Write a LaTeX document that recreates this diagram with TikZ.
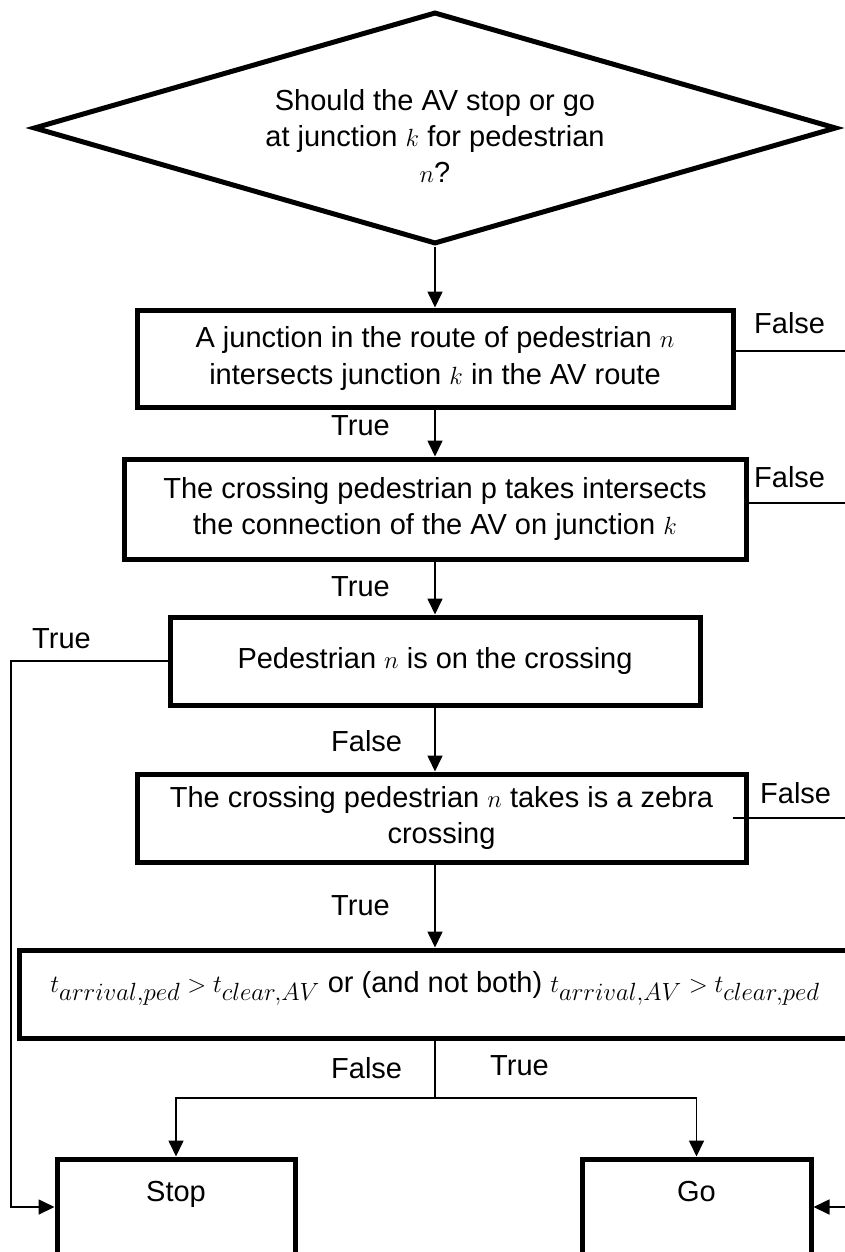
\documentclass[tikz,border=0pt]{standalone}
\usepackage{fontspec}
\setmainfont{Liberation Sans}
\usetikzlibrary{shapes.geometric,arrows.meta}
\tikzset{
  box/.style = {rectangle, draw, line width=5pt, align=center, inner sep=0pt},
  decision/.style = {diamond, draw, line width=5pt, aspect=3.46, inner sep=0pt},
  flow/.style = {line width=1.7pt, -{Triangle[length=16pt, width=15pt]}},
  link/.style = {line width=1.7pt},
  answer/.style = {anchor=west, inner sep=0pt}
}
% math a little larger than the text, as in the figure
\newcommand{\mv}[1]{{\fontsize{33.5}{36}\selectfont$#1$}}

\begin{document}
\begin{tikzpicture}[x=1pt, y=-1pt, font=\fontsize{29}{36}\selectfont]
	\def \col{435}
	\useasboundingbox (0,0) rectangle (845,1252);
	\clip (0,0) rectangle (845,1252);
	
	% Question
	\node[decision, minimum width=803pt, minimum height=232pt] (question) at (\col,128) {};
	\node[align=center] (questiontext) at (\col,136) {Should the AV stop or go\\at junction \mv{k} for pedestrian\\\mv{n}?};
	
	% Checks
	\node[box, minimum width=596pt, minimum height=97pt] (junction) at (\col,358.5) {A junction in the route of pedestrian \mv{n}\\intersects junction \mv{k} in the AV route};
	\node[box, minimum width=622pt, minimum height=100pt] (connection) at (\col,509) {The crossing pedestrian p takes intersects\\the connection of the AV on junction \mv{k}};
	\node[box, minimum width=530pt, minimum height=88pt] (oncrossing) at (\col,661) {Pedestrian \mv{n} is on the crossing};
	\node[box, minimum width=609pt, minimum height=88pt] (zebra) at (441.5,818) {The crossing pedestrian \mv{n} takes is a zebra\\crossing};
	\node[box, minimum width=832pt, minimum height=88pt, text height=22pt, text depth=26pt] (timing) at (\col,994) {\mv{t_{arrival,ped} > t_{clear,AV}} or (and not both) \mv{t_{arrival,AV} > t_{clear,ped}}};
	
	% Outcomes
	\node[box, minimum width=238pt, minimum height=96pt, text height=21pt, text depth=32pt] (stop) at (176,1207) {Stop};
	\node[box, minimum width=229pt, minimum height=96pt, text height=21pt, text depth=32pt] (go) at (696.5,1207) {Go};
	
	% Free ends
	\coordinate (exit1) at (850,351);
	\coordinate (exit2) at (850,503);
	\coordinate (exit4) at (850,818);
	\coordinate (goin) at (850,1207);
	\coordinate (loop) at (11,661);
	\coordinate (split) at (\col,1098);
	
	% Main line
	\draw[flow] (question.south) -- (question.south |- junction.north);
	\draw[flow] (junction) -- (connection);
	\draw[flow] (connection) -- (oncrossing);
	\draw[flow] (oncrossing.south) -- (oncrossing.south |- zebra.north);
	\draw[flow] (zebra.south -| timing.north) -- (timing.north);
	\draw[link] (timing.south) -- (split);
	\draw[flow] (split) -| (stop.north);
	\draw[flow] (split) -| (go.north);
	
	% Side lines
	\draw[link] (junction.east |- exit1) -- (exit1);
	\draw[link] (connection.east |- exit2) -- (exit2);
	\draw[link] ([xshift=-16pt]zebra.east) -- (exit4);
	\draw[flow] (oncrossing.west) -- (loop) |- (stop.west);
	\draw[flow] (goin) -- (go.east);
	
	% Answers
	\node[answer] (false1) at (754,323) {False};
	\node[answer] (false2) at (754,477) {False};
	\node[answer] (false4) at (760,793) {False};
	\node[answer] (true1) at (331,426) {True};
	\node[answer] (true2) at (331,587) {True};
	\node[answer] (true3) at (32,639) {True};
	\node[answer] (false3) at (331,741) {False};
	\node[answer] (true4) at (331,906) {True};
	\node[answer] (false5) at (331,1068) {False};
	\node[answer] (true5) at (490,1066) {True};
	
\end{tikzpicture}
\end{document}
